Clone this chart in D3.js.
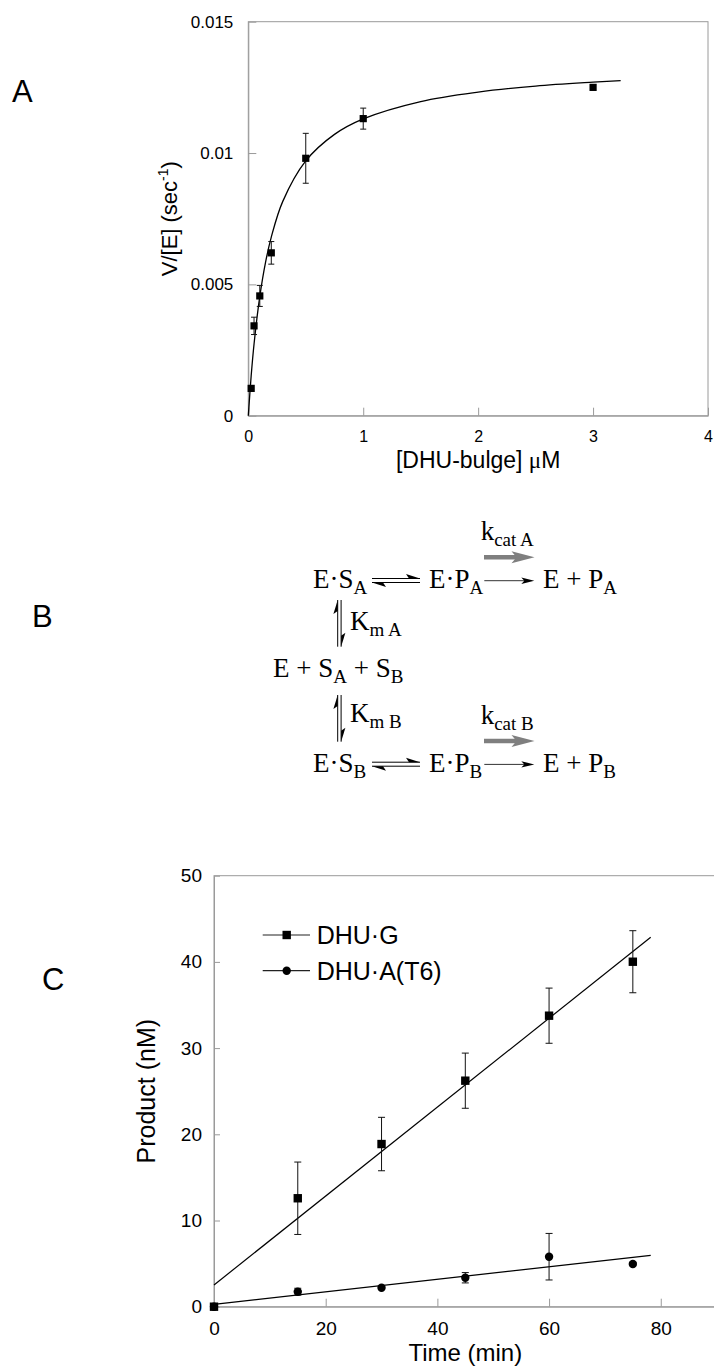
<!DOCTYPE html>
<html>
<head>
<meta charset="utf-8">
<script src="https://cdn.jsdelivr.net/npm/d3@7"></script>
<style>
  body { margin: 0; background: #fff; }
  svg { display: block; }
  .axis path, .axis line { stroke: #9a9a9a; }
  .axis text { fill: #000; font-family: "Liberation Sans", Arial, sans-serif; }
</style>
</head>
<body>
<div id="chart"></div>
<script>
const WIDTH = 714;
const HEIGHT = 1367;
const SANS = '"Liberation Sans", Arial, sans-serif';
const SERIF = '"Liberation Serif", "Times New Roman", serif';

// panel A: Michaelis-Menten data
const dhuConc = [0.025, 0.05, 0.1, 0.2, 0.5, 1, 3];
const rateA = [0.00104, 0.00342, 0.00456, 0.0062, 0.0098, 0.01131, 0.0125];
const rateErrA = [0, 0.00033, 0.0004, 0.00043, 0.00095, 0.0004, 0.0001];
// fitted curve
const fitConc = [0, 0.025, 0.05, 0.1, 0.15, 0.2, 0.3, 0.5, 0.75, 1, 1.5, 2, 2.5, 3, 3.24];
const fitRate = [0, 0.00152, 0.00273, 0.00454, 0.00584, 0.0068, 0.00816, 0.0097, 0.01071, 0.0113, 0.01196, 0.01232, 0.01255, 0.0127, 0.01276];
const xTicksA = [0, 1, 2, 3, 4];
const yTicksA = [0, 0.005, 0.01, 0.015];

// panel C: time courses
const timeC = [0, 15, 30, 45, 60, 75];
const productG = [0, 12.58, 18.87, 26.22, 33.76, 40.02];
const productErrG = [0, 4.2, 3.1, 3.2, 3.2, 3.6];
const productT6 = [0, 1.74, 2.2, 3.36, 5.8, 4.95];
const productErrT6 = [0, 0.4, 0, 0.6, 2.7, 0.2];
const fitTime = [0, 78.2];
const fitG = [2.52, 42.85];
const fitT6 = [0.28, 5.96];
const seriesNames = ['DHU\u00b7G', 'DHU\u00b7A(T6)'];
const xTicksC = [0, 20, 40, 60, 80];
const yTicksC = [0, 10, 20, 30, 40, 50];

const svg = d3.select('#chart')
  .append('svg')
    .attr('width', WIDTH)
    .attr('height', HEIGHT);

// panel letters
svg.selectAll('text.panel')
  .data([['A', 12, 102], ['B', 32, 627], ['C', 42, 990]])
  .enter().append('text')
    .attr('class', 'panel')
    .attr('x', d => d[1])
    .attr('y', d => d[2])
    .style('font-family', SANS)
    .style('font-size', '31px')
    .text(d => d[0]);

/** Panel A **/
const xA = d3.scaleLinear().domain([0, 4]).range([248.3, 708]);
const yA = d3.scaleLinear().domain([0, 0.015]).range([415.7, 21.7]);
const gA = svg.append('g');

gA.append('rect')
  .attr('x', xA(0)).attr('y', yA(0.015))
  .attr('width', xA(4) - xA(0)).attr('height', yA(0) - yA(0.015))
  .attr('fill', 'none').attr('stroke', '#9a9a9a');

gA.append('g')
  .attr('class', 'axis')
  .attr('transform', `translate(0, ${yA(0)})`)
  .call(d3.axisBottom(xA).tickValues(xTicksA).tickSizeInner(-8).tickSizeOuter(0).tickPadding(15)
    .tickFormat(d => String(d)))
  .call(g => g.selectAll('text').style('font-size', '16px'));

gA.append('g')
  .attr('class', 'axis')
  .attr('transform', `translate(${xA(0)}, 0)`)
  .call(d3.axisLeft(yA).tickValues(yTicksA).tickSizeInner(-8).tickSizeOuter(0).tickPadding(15)
    .tickFormat(d => String(d)))
  .call(g => g.selectAll('text').style('font-size', '17px'));

const xLabA = gA.append('text')
  .attr('x', (xA(0) + xA(4)) / 2)
  .attr('y', 468)
  .attr('text-anchor', 'middle')
  .style('font-family', SANS)
  .style('font-size', '23px');
xLabA.append('tspan').text('[DHU-bulge] ');
xLabA.append('tspan').style('font-family', SERIF).text('\u03bc');
xLabA.append('tspan').text('M');

const yLabA = gA.append('text')
  .attr('transform', `translate(177, ${(yA(0) + yA(0.015)) / 2}) rotate(-90)`)
  .attr('text-anchor', 'middle')
  .style('font-family', SANS)
  .style('font-size', '22px');
yLabA.append('tspan').text('V/[E] (sec');
yLabA.append('tspan').attr('dy', -9).style('font-size', '14px').text('-1');
yLabA.append('tspan').attr('dy', 9).text(')');

gA.append('path')
  .datum(d3.zip(fitConc, fitRate))
  .attr('fill', 'none')
  .attr('stroke', '#000')
  .attr('stroke-width', 1.3)
  .attr('d', d3.line().x(d => xA(d[0])).y(d => yA(d[1])).curve(d3.curveCatmullRom));

const ptsA = d3.zip(dhuConc, rateA, rateErrA);
drawErrors(gA, ptsA.filter(d => d[2] > 0), xA, yA, 3);
gA.selectAll('rect.pt')
  .data(ptsA)
  .enter().append('rect')
    .attr('class', 'pt')
    .attr('x', d => xA(d[0]) - 3.6)
    .attr('y', d => yA(d[1]) - 3.6)
    .attr('width', 7.2).attr('height', 7.2)
    .attr('fill', '#000');

/** Panel B: reaction scheme **/
const gB = svg.append('g').style('font-family', SERIF);

// [x, baseline, [text, isSub]...]
const species = [
  [313, 588.3, [['E\u00b7S', 0], ['A', 1]]],
  [429, 588.3, [['E\u00b7P', 0], ['A', 1]]],
  [543, 588.3, [['E + P', 0], ['A', 1]]],
  [273, 677, [['E + S', 0], ['A', 1], [' + S', 0], ['B', 1]]],
  [313, 772, [['E\u00b7S', 0], ['B', 1]]],
  [429, 772, [['E\u00b7P', 0], ['B', 1]]],
  [543, 772, [['E + P', 0], ['B', 1]]],
  [350, 630, [['K', 0], ['m A', 1]]],
  [350, 721.7, [['K', 0], ['m B', 1]]],
  [480.7, 540.3, [['k', 0], ['cat A', 1]]],
  [480.7, 724, [['k', 0], ['cat B', 1]]]
];

species.forEach(s => {
  const t = gB.append('text')
    .attr('x', s[0]).attr('y', s[1])
    .style('font-size', '27px')
    .attr('xml:space', 'preserve');
  let sub = 0;
  s[2].forEach(part => {
    t.append('tspan')
      .attr('dy', part[1] === sub ? 0 : (part[1] ? 6 : -6))
      .style('font-size', part[1] ? '19px' : '27px')
      .text(part[0]);
    sub = part[1];
  });
});

function harpoons(g, x1, x2, y) {
  g.append('line').attr('x1', x1).attr('x2', x2).attr('y1', y - 2).attr('y2', y - 2)
    .attr('stroke', '#000').attr('stroke-width', 1);
  g.append('path').attr('d', `M${x2},${y - 2} L${x2 - 14},${y - 6.5} L${x2 - 11},${y - 2} Z`);
  g.append('line').attr('x1', x1).attr('x2', x2).attr('y1', y + 2).attr('y2', y + 2)
    .attr('stroke', '#000').attr('stroke-width', 1);
  g.append('path').attr('d', `M${x1},${y + 2} L${x1 + 14},${y + 6.5} L${x1 + 11},${y + 2} Z`);
}

function vHarpoons(g, x, y1, y2) {
  g.append('line').attr('x1', x - 1.7).attr('x2', x - 1.7).attr('y1', y1).attr('y2', y2)
    .attr('stroke', '#000').attr('stroke-width', 1);
  g.append('path').attr('d', `M${x - 1.7},${y1} L${x - 6},${y1 + 14} L${x - 1.7},${y1 + 11} Z`);
  g.append('line').attr('x1', x + 1.7).attr('x2', x + 1.7).attr('y1', y1).attr('y2', y2)
    .attr('stroke', '#000').attr('stroke-width', 1);
  g.append('path').attr('d', `M${x + 1.7},${y2} L${x + 6},${y2 - 14} L${x + 1.7},${y2 - 11} Z`);
}

function thinArrow(g, x1, x2, y) {
  g.append('line').attr('x1', x1).attr('x2', x2 - 8).attr('y1', y).attr('y2', y)
    .attr('stroke', '#333').attr('stroke-width', 1);
  g.append('path').attr('d', `M${x2},${y} L${x2 - 13},${y - 3.2} L${x2 - 10},${y} L${x2 - 13},${y + 3.2} Z`);
}

function greyArrow(g, x1, x2, y) {
  g.append('line').attr('x1', x1).attr('x2', x2 - 16).attr('y1', y).attr('y2', y)
    .attr('stroke', '#7f7f7f').attr('stroke-width', 4.5);
  g.append('path').attr('fill', '#7f7f7f')
    .attr('d', `M${x2},${y} L${x2 - 23},${y - 6} L${x2 - 18},${y} L${x2 - 23},${y + 6} Z`);
}

[588.3, 772].forEach(base => {
  harpoons(gB, 372, 420, base - 7.8);
  thinArrow(gB, 484.3, 534.3, base - 7.6);
  greyArrow(gB, 484, 534.5, base - 31);
});
vHarpoons(gB, 339.4, 600, 646.7);
vHarpoons(gB, 339.4, 695, 741.7);

/** Panel C **/
const xC = d3.scaleLinear().domain([0, 90]).range([214, 716.6]);
const yC = d3.scaleLinear().domain([0, 50]).range([1306.7, 875.7]);
const gC = svg.append('g');

gC.append('rect')
  .attr('x', xC(0)).attr('y', yC(50))
  .attr('width', xC(90) - xC(0)).attr('height', yC(0) - yC(50))
  .attr('fill', 'none').attr('stroke', '#9a9a9a');

gC.append('g')
  .attr('class', 'axis')
  .attr('transform', `translate(0, ${yC(0)})`)
  .call(d3.axisBottom(xC).tickValues(xTicksC).tickSizeInner(-8).tickSizeOuter(0).tickPadding(15))
  .call(g => g.selectAll('text').style('font-size', '19px'));

gC.append('g')
  .attr('class', 'axis')
  .attr('transform', `translate(${xC(0)}, 0)`)
  .call(d3.axisLeft(yC).tickValues(yTicksC).tickSizeInner(-6).tickSizeOuter(0).tickPadding(12))
  .call(g => g.selectAll('text').style('font-size', '19px'));

gC.append('text')
  .attr('x', (xC(0) + xC(90)) / 2)
  .attr('y', 1361)
  .attr('text-anchor', 'middle')
  .style('font-family', SANS)
  .style('font-size', '24px')
  .text('Time (min)');

gC.append('text')
  .attr('transform', `translate(155, ${(yC(0) + yC(50)) / 2}) rotate(-90)`)
  .attr('text-anchor', 'middle')
  .style('font-family', SANS)
  .style('font-size', '25px')
  .text('Product (nM)');

const fitLine = d3.line().x(d => xC(d[0])).y(d => yC(d[1]));
[fitG, fitT6].forEach(f => {
  gC.append('path')
    .datum(d3.zip(fitTime, f))
    .attr('fill', 'none')
    .attr('stroke', '#000')
    .attr('stroke-width', 1.2)
    .attr('d', fitLine);
});

const ptsG = d3.zip(timeC, productG, productErrG);
const ptsT6 = d3.zip(timeC, productT6, productErrT6);
drawErrors(gC, ptsG.filter(d => d[2] > 0), xC, yC, 3.5);
drawErrors(gC, ptsT6.filter(d => d[2] > 0), xC, yC, 3.5);

gC.selectAll('circle.pt')
  .data(ptsT6)
  .enter().append('circle')
    .attr('class', 'pt')
    .attr('cx', d => xC(d[0]))
    .attr('cy', d => yC(d[1]))
    .attr('r', 4.2)
    .attr('fill', '#000');

gC.selectAll('rect.pt')
  .data(ptsG)
  .enter().append('rect')
    .attr('class', 'pt')
    .attr('x', d => xC(d[0]) - 4.2)
    .attr('y', d => yC(d[1]) - 4.2)
    .attr('width', 8.4).attr('height', 8.4)
    .attr('fill', '#000');

// legend
const legend = gC.selectAll('g.legend')
  .data(seriesNames)
  .enter().append('g')
    .attr('class', 'legend')
    .attr('transform', (d, i) => `translate(262.7, ${935 + i * 35.7})`);
legend.append('line')
  .attr('x1', 0).attr('x2', 47.3)
  .attr('stroke', '#222').attr('stroke-width', 1.2);
legend.filter((d, i) => i === 0).append('rect')
  .attr('x', 24 - 4.2).attr('y', -4.2).attr('width', 8.4).attr('height', 8.4);
legend.filter((d, i) => i === 1).append('circle')
  .attr('cx', 24).attr('r', 4.2);
legend.append('text')
  .attr('x', 54)
  .attr('y', 9)
  .style('font-family', SANS)
  .style('font-size', '25px')
  .text(d => d);

/** Functions **/

// vertical error bars with caps
function drawErrors(g, pts, x, y, cap) {
  const e = g.append('g').attr('stroke', '#111').attr('stroke-width', 1);
  pts.forEach(d => {
    const cx = x(d[0]);
    const top = y(d[1] + d[2]);
    const bot = y(d[1] - d[2]);
    e.append('line').attr('x1', cx).attr('x2', cx).attr('y1', top).attr('y2', bot);
    e.append('line').attr('x1', cx - cap).attr('x2', cx + cap).attr('y1', top).attr('y2', top);
    e.append('line').attr('x1', cx - cap).attr('x2', cx + cap).attr('y1', bot).attr('y2', bot);
  });
}
</script>
</body>
</html>
